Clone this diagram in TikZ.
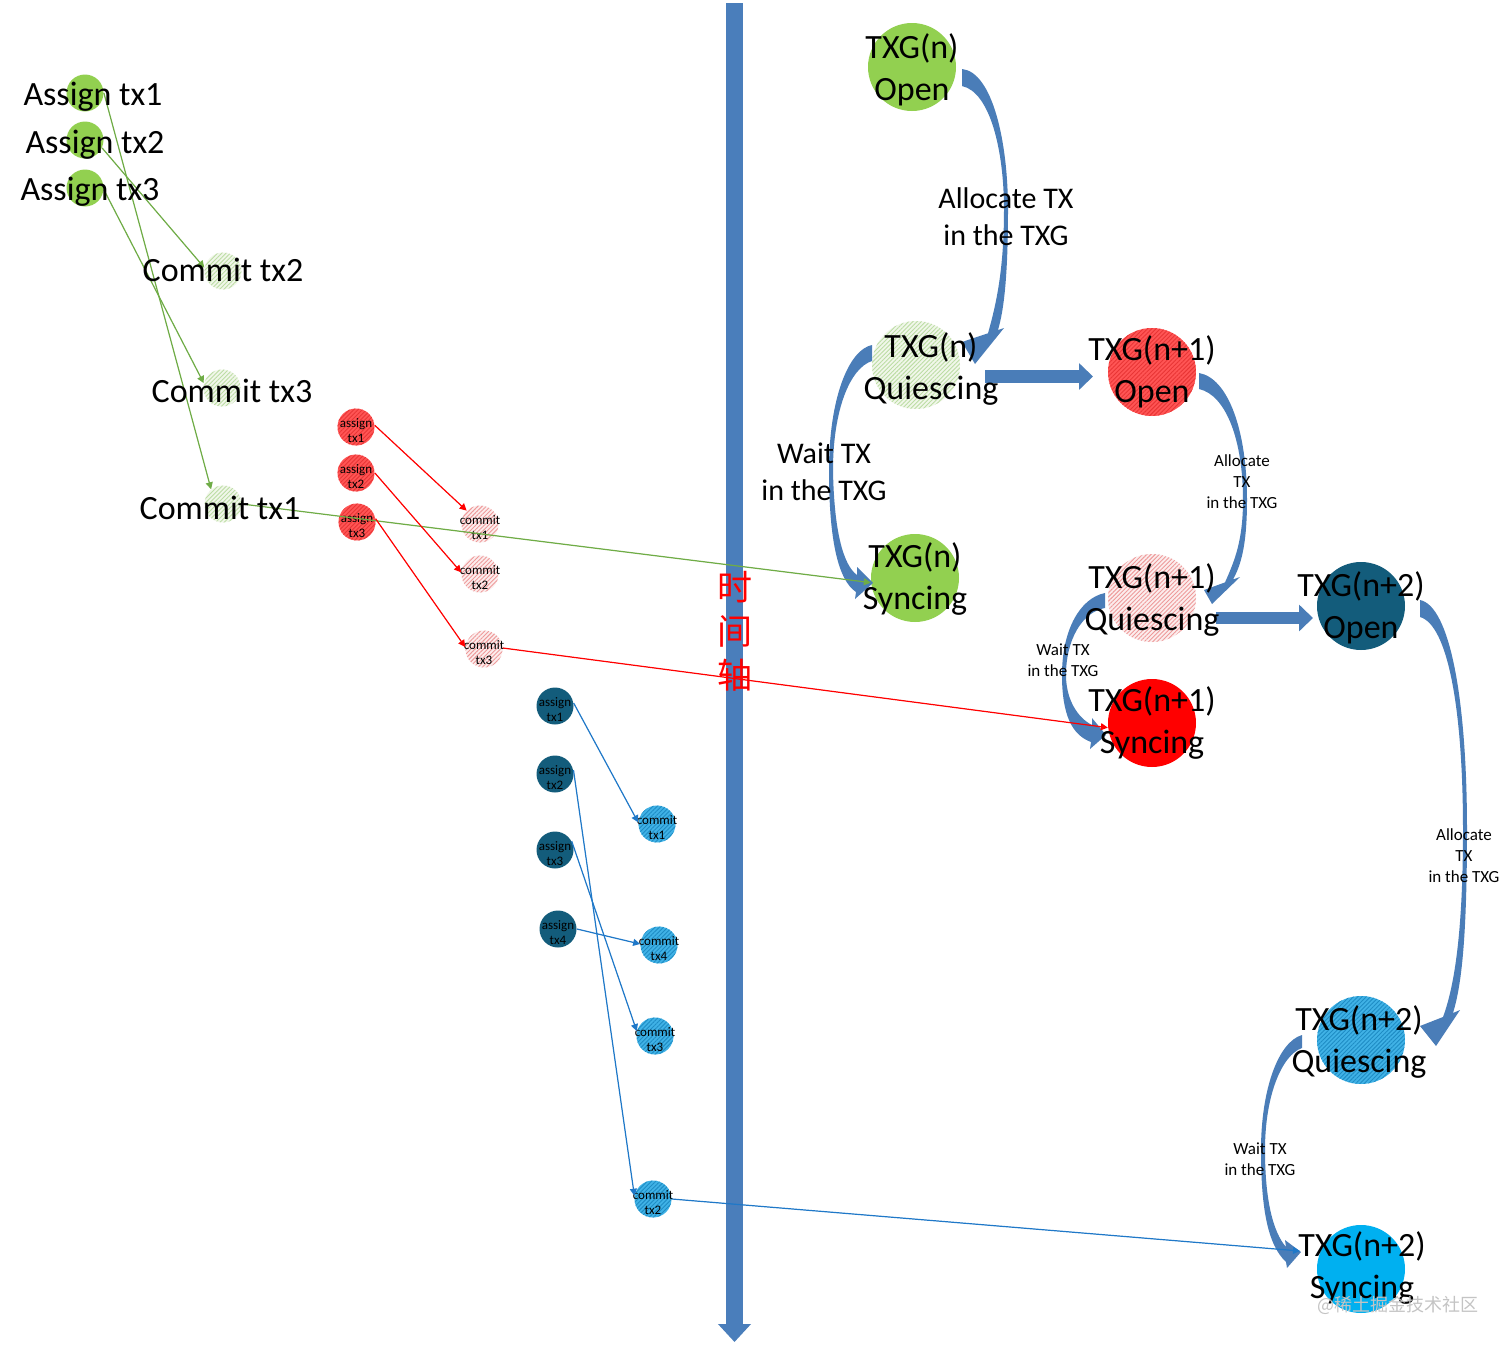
\documentclass[tikz,border=0pt]{standalone}
\usepackage{fontspec}
\setmainfont{Carlito}
\newfontfamily\cjk{Noto Sans CJK SC}
\usetikzlibrary{arrows.meta,patterns.meta}
\definecolor{axisblue}{HTML}{4A7EBB}
\definecolor{bandblue}{HTML}{4A7DB8}
\definecolor{lgreen}{HTML}{92D050}
\definecolor{greenline}{HTML}{6FAC46}
\definecolor{hgreenbg}{HTML}{F1F7EA}
\definecolor{hgreenln}{HTML}{BCDDA4}
\definecolor{redA}{HTML}{FF5555}
\definecolor{redAln}{HTML}{E83535}
\definecolor{pinkbg}{HTML}{FCEDED}
\definecolor{pinkln}{HTML}{EE9A9A}
\definecolor{pureRed}{HTML}{FF0000}
\definecolor{tealA}{HTML}{135C7B}
\definecolor{hbluebg}{HTML}{40B2E6}
\definecolor{hblueln}{HTML}{1E8CC4}
\definecolor{cyanS}{HTML}{00B0F0}
\definecolor{blueline}{HTML}{1F78C8}
\definecolor{wmark}{HTML}{C4C4C4}
\tikzset{
  bigc/.style={circle, inner sep=0pt, minimum size=44pt, draw=none},
  gsmall/.style={circle, inner sep=0pt, minimum size=18.5pt, draw=none},
  ssmall/.style={circle, inner sep=0pt, minimum size=18.5pt, draw=none},
  hatch/.style 2 args={preaction={fill=#1}, pattern={Lines[angle=45,distance=1.5pt,line width=0.45pt]}, pattern color=#2},
  bigtxt/.style={align=center, inner sep=0pt, yshift=-1pt, font=\fontsize{17pt}{21pt}\selectfont},
  midtxt/.style={align=center, inner sep=0pt, font=\fontsize{15pt}{18.5pt}\selectfont},
  smalltxt/.style={align=center, inner sep=0pt, font=\fontsize{8.5pt}{10.5pt}\selectfont},
  tinytxt/.style={align=center, inner sep=0pt, font=\fontsize{6.5pt}{7.5pt}\selectfont, yshift=-2pt},
  conn/.style={line width=0.6pt, -{Triangle[length=3.5pt,width=3.5pt]}},
  band/.style={fill=bandblue, draw=none},
  blk/.style={draw=bandblue, line width=6.2pt, -{Triangle[length=7pt,width=13pt]}},
}
\begin{document}
\begin{tikzpicture}[x=0.5pt,y=-0.5pt]
\useasboundingbox (0,0) rectangle (1512,1349);
\fill[white] (0,0) rectangle (1512,1349);

% time axis
\coordinate (axtop) at (734.5,3);
\coordinate (axbot) at (734.5,1342);
\draw[draw=axisblue, line width=8.5pt, -{Triangle[length=9pt,width=16pt]}] (axtop) -- (axbot);

% green group
\node[gsmall, fill=lgreen] (ga1) at (85,93) {};
\node[gsmall, fill=lgreen] (ga2) at (85,140) {};
\node[gsmall, fill=lgreen] (ga3) at (85,188) {};
\node[gsmall, hatch={hgreenbg}{hgreenln}] (gc2) at (223,271) {};
\node[gsmall, hatch={hgreenbg}{hgreenln}] (gc3) at (222,388) {};
\node[gsmall, hatch={hgreenbg}{hgreenln}] (gc1) at (223,504) {};

% red group
\node[ssmall, hatch={redA}{redAln}, label={[tinytxt]center:{assign\\tx1}}] (ra1) at (356,427) {};
\node[ssmall, hatch={redA}{redAln}, label={[tinytxt]center:{assign\\tx2}}] (ra2) at (356,473) {};
\node[ssmall, hatch={redA}{redAln}, label={[tinytxt]center:{assign\\tx3}}] (ra3) at (357,522) {};
\node[ssmall, hatch={pinkbg}{pinkln}, label={[tinytxt]center:{commit\\tx1}}] (rc1) at (480,524) {};
\node[ssmall, hatch={pinkbg}{pinkln}, label={[tinytxt]center:{commit\\tx2}}] (rc2) at (480,574) {};
\node[ssmall, hatch={pinkbg}{pinkln}, label={[tinytxt]center:{commit\\tx3}}] (rc3) at (484,649) {};

% blue group
\node[ssmall, fill=tealA, label={[tinytxt]center:{assign\\tx1}}] (ba1) at (555,706) {};
\node[ssmall, fill=tealA, label={[tinytxt]center:{assign\\tx2}}] (ba2) at (555,774) {};
\node[ssmall, fill=tealA, label={[tinytxt]center:{assign\\tx3}}] (ba3) at (555,850) {};
\node[ssmall, fill=tealA, label={[tinytxt]center:{assign\\tx4}}] (ba4) at (558,929) {};
\node[ssmall, hatch={hbluebg}{hblueln}, label={[tinytxt]center:{commit\\tx1}}] (bc1) at (657,824) {};
\node[ssmall, hatch={hbluebg}{hblueln}, label={[tinytxt]center:{commit\\tx4}}] (bc4) at (659,945) {};
\node[ssmall, hatch={hbluebg}{hblueln}, label={[tinytxt]center:{commit\\tx3}}] (bc3) at (655,1036) {};
\node[ssmall, hatch={hbluebg}{hblueln}, label={[tinytxt]center:{commit\\tx2}}] (bc2) at (653,1199) {};

% TXG states
\node[bigc, fill=lgreen] (o0) at (912,67) {};
\node[bigc, hatch={hgreenbg}{hgreenln}] (q0) at (916,365) {};
\node[bigc, fill=lgreen] (s0) at (915,578) {};
\node[bigc, hatch={redA}{redAln}] (o1) at (1152,372) {};
\node[bigc, hatch={pinkbg}{pinkln}] (q1) at (1152,598) {};
\node[bigc, fill=pureRed] (s1) at (1152,723) {};
\node[bigc, fill=tealA] (o2) at (1361,606) {};
\node[bigc, hatch={hbluebg}{hblueln}] (q2) at (1361,1040) {};
\node[bigc, fill=cyanS] (s2) at (1361,1269) {};

% curved band arrows
\fill[band] (962,69) .. controls (992,72) and (1008,140) .. (1008,210) .. controls (1008,275) and (1004,310) .. (998,330) -- (1004,328) -- (975,364) -- (962,342) -- (988,333.3) .. controls (996,305) and (1004,270) .. (1004,210) .. controls (1004,150) and (990,92) .. (962,86) -- cycle;
\fill[band] (872,345) .. controls (848,350) and (829,400) .. (829,470) .. controls (829,540) and (838,580) .. (856,592) -- (855,599) -- (873,583) -- (857,567) -- (857,575) .. controls (843,565) and (834,530) .. (833,470) .. controls (833,410) and (850,368) .. (872,361) -- cycle;
\fill[band] (1199,373) .. controls (1228,378) and (1247,430) .. (1247,500) .. controls (1247,545) and (1241,565) .. (1233,579.5) -- (1240,577) -- (1212,604) -- (1204,590) -- (1225,582.4) .. controls (1235,560) and (1243,540) .. (1243,500) .. controls (1243,440) and (1226,395) .. (1199,389) -- cycle;
\fill[band] (1105,593) .. controls (1080,598) and (1062,630) .. (1062,675) .. controls (1062,715) and (1072,735) .. (1091,742) -- (1090,749) -- (1106,735) -- (1092,718) -- (1092,725) .. controls (1078,718) and (1066,700) .. (1066,675) .. controls (1066,640) and (1082,612) .. (1105,608) -- cycle;
\fill[band] (1420,600) .. controls (1450,606) and (1467,700) .. (1467,830) .. controls (1467,950) and (1460,990) .. (1453,1013) -- (1460,1010) -- (1436,1046) -- (1420,1026) -- (1443,1017) .. controls (1453,990) and (1463,940) .. (1463,830) .. controls (1463,710) and (1448,625) .. (1420,617) -- cycle;
\fill[band] (1302,1035) .. controls (1278,1042) and (1261,1090) .. (1261,1150) .. controls (1261,1210) and (1268,1245) .. (1286,1262) -- (1287,1268) -- (1301,1252) -- (1285,1240) -- (1286,1247) .. controls (1273,1232) and (1265,1200) .. (1265,1150) .. controls (1265,1095) and (1282,1055) .. (1302,1048) -- cycle;

% straight block arrows
\coordinate (b1s) at (985,376.5);
\coordinate (b1e) at (1093,376.5);
\coordinate (b2s) at (1216,618);
\coordinate (b2e) at (1313,618);
\draw[blk] (b1s) -- (b1e);
\draw[blk] (b2s) -- (b2e);

% thin connectors
\draw[conn, draw=greenline, fill=greenline] (ga1.0) -- (gc1.129);
\draw[conn, draw=greenline, fill=greenline] (ga2.-25) -- (gc2.170);
\draw[conn, draw=greenline, fill=greenline] (ga3.-5) -- (gc3.165);
\draw[conn, draw=greenline, fill=greenline] (gc1.0) -- (s0.186);

\draw[conn, draw=red, fill=red] (ra1.5) -- (rc1.135);
\draw[conn, draw=red, fill=red] (ra2.0) -- (rc2.175);
\draw[conn, draw=red, fill=red] (ra3.10) -- (rc3.174);
\draw[conn, draw=red, fill=red] (rc3.3) -- (s1.186);

\coordinate (s2in) at (1300,1251);
\draw[conn, draw=blueline, fill=blueline] (ba1.9) -- (bc1.175);
\draw[conn, draw=blueline, fill=blueline] (ba2.12) -- (bc2.170);
\draw[conn, draw=blueline, fill=blueline] (ba3.28) -- (bc3.165);
\draw[conn, draw=blueline, fill=blueline] (ba4.0) -- (bc4.177);
\draw[conn, draw=blueline, fill=blueline] (bc2.0) -- (s2in);

% texts
\node[bigtxt] (ga1t) at (93,95) {Assign tx1};
\node[bigtxt] (ga2t) at (95,143) {Assign tx2};
\node[bigtxt] (ga3t) at (90,190) {Assign tx3};
\node[bigtxt] (gc2t) at (223,268) {Commit tx2};
\node[bigtxt] (gc3t) at (232,389) {Commit tx3};
\node[bigtxt] (gc1t) at (220,506) {Commit tx1};

\node[bigtxt] (o0t) at (912,68) {TXG(n)\\Open};
\node[bigtxt] (q0t) at (931,367) {TXG(n)\\Quiescing};
\node[bigtxt] (s0t) at (915,577) {TXG(n)\\Syncing};
\node[bigtxt] (o1t) at (1152,370) {TXG(n+1)\\Open};
\node[bigtxt] (q1t) at (1152,598) {TXG(n+1)\\Quiescing};
\node[bigtxt] (s1t) at (1152,721) {TXG(n+1)\\Syncing};
\node[bigtxt] (o2t) at (1361,606) {TXG(n+2)\\Open};
\node[bigtxt] (q2t) at (1359,1040) {TXG(n+2)\\Quiescing};
\node[bigtxt] (s2t) at (1362,1266) {TXG(n+2)\\Syncing};

\node[midtxt] (l1) at (1006,217) {Allocate TX\\in the TXG};
\node[midtxt] (l2) at (824,472) {Wait TX\\in the TXG};
\node[smalltxt] (l3) at (1242,482) {Allocate\\TX\\in the TXG};
\node[smalltxt] (l4) at (1063,660) {Wait TX\\in the TXG};
\node[smalltxt] (l5) at (1464,856) {Allocate\\TX\\in the TXG};
\node[smalltxt] (l6) at (1260,1159) {Wait TX\\in the TXG};

\node[text=red, align=center, inner sep=0pt, font=\cjk\fontsize{17.5pt}{22pt}\selectfont] (axl) at (735,631) {时\\间\\轴};
\node[text=wmark, inner sep=0pt, font=\cjk\fontsize{9pt}{11pt}\selectfont] (wmk) at (1398,1305) {@稀土掘金技术社区};
\end{tikzpicture}
\end{document}
